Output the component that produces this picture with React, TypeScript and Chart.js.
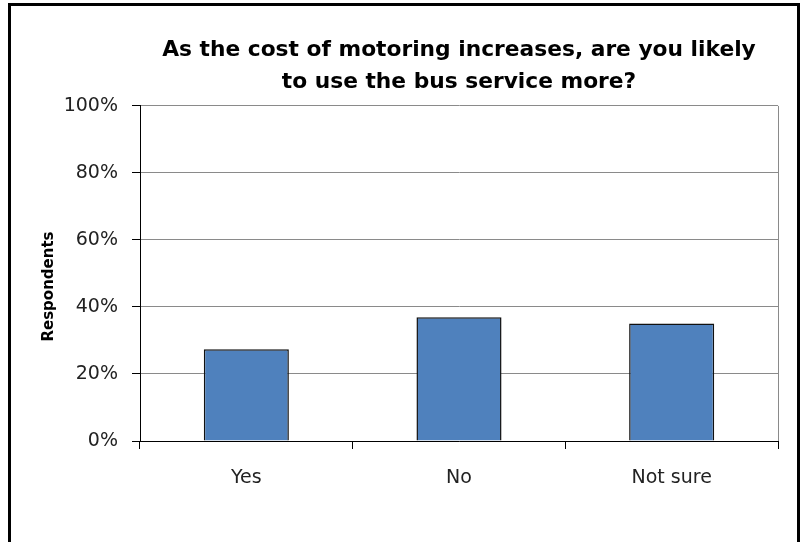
import React, { useEffect, useRef } from "react";
import { Chart, registerables } from "chart.js";

Chart.register(...registerables);

const categories = ["Yes", "No", "Not sure"];
const respondents = [27.4, 36.9, 35.1];
const titleLines = ["As the cost of motoring increases, are you likely", "to use the bus service more?"];
const yAxisTitle = "Respondents";
const yTicks = [0, 20, 40, 60, 80, 100];

export default function App() {
  const ref = useRef<HTMLCanvasElement | null>(null);

  useEffect(() => {
    if (!ref.current) return;
    const chart = new Chart(ref.current, {
      type: "bar",
      data: {
        labels: categories,
        datasets: [
          {
            data: respondents,
            backgroundColor: "#4F81BD",
            borderColor: "#111",
            borderWidth: 1.5,
            barPercentage: 0.4,
            categoryPercentage: 1,
          },
        ],
      },
      options: {
        responsive: false,
        animation: false,
        layout: { padding: { left: 0, top: 0, right: 24, bottom: 0 } },
        plugins: {
          legend: { display: false },
          tooltip: { enabled: false },
          title: {
            display: true,
            text: titleLines,
            fullSize: false,
            color: "#000",
            font: { family: "DejaVu Sans", size: 21.75, weight: "bold", lineHeight: 1.47 },
            padding: { top: 34, bottom: 8 },
          },
        },
        scales: {
          x: {
            offset: true,
            grid: {
              offset: true,
              drawOnChartArea: true,
              color: (ctx: any) =>
                ctx.type !== "tick" || ctx.index === categories.length ? "#8a8a8a" : "rgba(0,0,0,0)",
              tickColor: "#000",
              tickLength: 8,
              lineWidth: 1,
            },
            border: { color: "#000", width: 1 },
            ticks: {
              color: "#222",
              font: { family: "DejaVu Sans", size: 19 },
              padding: 18,
            },
            afterFit: (scale: any) => {
              scale.height = 101;
            },
          },
          y: {
            min: 0,
            max: 100,
            afterBuildTicks: (scale: any) => {
              scale.ticks = yTicks.map((v) => ({ value: v }));
            },
            grid: {
              color: "#8a8a8a",
              tickColor: "#000",
              tickLength: 8,
              lineWidth: 1,
            },
            border: { color: "#000", width: 1 },
            ticks: {
              color: "#222",
              font: { family: "DejaVu Sans", size: 19 },
              padding: 14,
              callback: (v: any) => v + "%",
            },
            title: {
              display: true,
              text: yAxisTitle + "     ",
              color: "#000",
              font: { family: "DejaVu Sans", size: 15, weight: "bold" },
              padding: { top: 40, bottom: 0 },
            },
            afterFit: (scale: any) => {
              scale.width = 140;
            },
          },
        },
      },
    });
    return () => chart.destroy();
  }, []);

  return (
    <div style={{ position: "fixed", left: 0, top: 0, width: 802, height: 542, background: "#fff", overflow: "hidden" }}>
      <div
        style={{
          position: "absolute",
          left: 8,
          top: 3,
          width: 792,
          height: 620,
          boxSizing: "border-box",
          border: "3px solid #000",
        }}
      />
      <canvas ref={ref} width={802} height={542} style={{ position: "absolute", left: 0, top: 0, width: 802, height: 542 }} />
    </div>
  );
}
